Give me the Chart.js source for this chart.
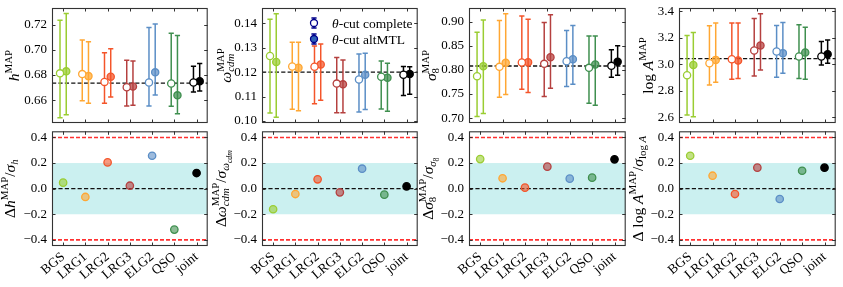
<!DOCTYPE html>
<html><head><meta charset="utf-8">
<script src="https://cdn.jsdelivr.net/npm/chart.js"></script>
<style>
html,body{margin:0;padding:0;background:#fff;}
#wrap{position:relative;width:843px;height:287px;overflow:hidden;background:#fff;}
canvas{position:absolute;}
</style></head><body><div id="wrap"></div>
<script>
// ---------------- DATA ----------------
const categories = ['BGS','LRG1','LRG2','LRG3','ELG2','QSO','joint'];
const tracerColors = ['#9acd32','#ffa733','#f4552a','#b5403f','#5b8ec6','#3f8f4f','#000000'];

// h
const h_complete    = [0.6813,0.6807,0.6745,0.6702,0.6740,0.6732,0.6740];
const h_complete_hi = [0.7235,0.7079,0.6977,0.6917,0.7178,0.7133,0.6869];
const h_complete_lo = [0.6460,0.6595,0.6576,0.6554,0.6554,0.6552,0.6665];
const h_alt         = [0.6829,0.6791,0.6786,0.6708,0.6821,0.6638,0.6751];
const h_alt_hi      = [0.7289,0.7065,0.7009,0.6912,0.7205,0.7114,0.6891];
const h_alt_lo      = [0.6484,0.6576,0.6624,0.6560,0.6640,0.6492,0.6673];
const h_fid = 0.6736;
const hTicks = [0.66,0.68,0.70,0.72];
const hTickLabels = ['0.66','0.68','0.70','0.72'];

// omega_cdm
const omega_complete    = [0.1266,0.1223,0.1222,0.1153,0.1170,0.1181,0.1189];
const omega_complete_hi = [0.1416,0.1322,0.1307,0.1260,0.1274,0.1245,0.1223];
const omega_complete_lo = [0.1033,0.1048,0.1071,0.1034,0.1037,0.1049,0.1104];
const omega_alt         = [0.1241,0.1218,0.1231,0.1150,0.1189,0.1177,0.1192];
const omega_alt_hi      = [0.1438,0.1322,0.1315,0.1249,0.1277,0.1236,0.1222];
const omega_alt_lo      = [0.1016,0.1042,0.1085,0.1034,0.1047,0.1040,0.1110];
const omega_fid = 0.1200;
const omegaTicks = [0.10,0.11,0.12,0.13,0.14];
const omegaTickLabels = ['0.10','0.11','0.12','0.13','0.14'];

// sigma8
const sigma8_complete    = [0.7869,0.8062,0.8152,0.8124,0.8179,0.8041,0.8083];
const sigma8_complete_hi = [0.8779,0.9021,0.9117,0.8979,0.8814,0.8703,0.8414];
const sigma8_complete_lo = [0.7034,0.7434,0.7600,0.7448,0.7655,0.7310,0.7848];
const sigma8_alt         = [0.8076,0.8145,0.8159,0.8262,0.8220,0.8110,0.8166];
const sigma8_alt_hi      = [0.9034,0.9159,0.9048,0.9138,0.8917,0.8703,0.8497];
const sigma8_alt_lo      = [0.7097,0.7490,0.7531,0.7621,0.7703,0.7268,0.7889];
const sigma8_fid = 0.808;
const sigma8Ticks = [0.70,0.75,0.80,0.85,0.90];
const sigma8TickLabels = ['0.70','0.75','0.80','0.85','0.90'];

// log A
const logA_complete    = [2.918,3.009,3.039,3.105,3.097,3.059,3.059];
const logA_complete_hi = [3.218,3.292,3.312,3.347,3.294,3.299,3.173];
const logA_complete_lo = [2.618,2.845,2.888,2.913,2.903,2.893,2.996];
const logA_alt         = [2.996,3.034,3.029,3.143,3.085,3.090,3.077];
const logA_alt_hi      = [3.241,3.312,3.312,3.382,3.317,3.281,3.185];
const logA_alt_lo      = [2.605,2.865,2.893,2.958,2.933,2.888,3.009];
const logA_fid = 3.044;
const logATicks = [2.6,2.8,3.0,3.2,3.4];
const logATickLabels = ['2.6','2.8','3.0','3.2','3.4'];

// normalized shifts (altMTL - complete)/sigma
const delta_h      = [0.047,-0.065,0.205,0.023,0.257,-0.320,0.122];
const delta_omega  = [-0.161,-0.042,0.073,-0.029,0.156,-0.047,0.018];
const delta_sigma8 = [0.231,0.081,0.008,0.172,0.078,0.086,0.229];
const delta_logA   = [0.257,0.101,-0.042,0.164,-0.081,0.140,0.164];
const deltaTicks = [-0.4,-0.2,0.0,0.2,0.4];
const deltaTickLabels = ['\u22120.4','\u22120.2','0.0','0.2','0.4'];
const deltaBand = [-0.2,0.2];
const deltaRedLines = [-0.4,0.4];

const legendLabels = ['complete','altMTL'];

// ---------------- STYLE / LAYOUT ----------------
const FONT = '"Liberation Serif","DejaVu Serif",serif';
const PAIR_OFF = 0.14;
const XMIN = -0.5, XMAX = 6.5;
const FRAME = '#333333';

function rgba(hex,a){const n=parseInt(hex.slice(1),16);return `rgba(${n>>16},${(n>>8)&255},${n&255},${a})`;}
const fillColors = tracerColors.map(c => c==='#000000' ? '#000000' : rgba(c,0.72));
const lightFill  = tracerColors.map(c => c==='#000000' ? '#000000' : rgba(c,0.6));

function drawMath(ctx, segs, x, cy, S){
  const items=[]; let pos=0, stackW=0;
  for(const s of segs){
    const size = (s.sup||s.sub) ? S*0.7 : (s.subsub ? S*0.5 : S);
    const font = (s.it?'italic ':'') + size + 'px ' + FONT;
    ctx.font = font;
    const w = ctx.measureText(s.t).width;
    const shift = s.sup ? S*0.42 : (s.sub ? -S*0.22 : (s.subsub ? -S*0.40 : 0));
    items.push({t:s.t, font, x:pos, shift});
    if(s.stack){ stackW = w; } else { pos += Math.max(w, stackW); stackW = 0; }
  }
  ctx.save();
  ctx.translate(x, cy);
  ctx.rotate(-Math.PI/2);
  ctx.fillStyle = '#000';
  ctx.textBaseline = 'alphabetic';
  ctx.textAlign = 'left';
  for(const it of items){ ctx.font = it.font; ctx.fillText(it.t, -pos/2 + it.x, -it.shift); }
  ctx.restore();
}

function drawErrorbar(ctx, x, y1, y2, color){
  ctx.strokeStyle = color; ctx.lineWidth = 1.5;
  ctx.beginPath();
  ctx.moveTo(x, y1); ctx.lineTo(x, y2);
  ctx.moveTo(x-2.6, y1); ctx.lineTo(x+2.6, y1);
  ctx.moveTo(x-2.6, y2); ctx.lineTo(x+2.6, y2);
  ctx.stroke();
}

function hline(ctx, area, y, color, lw, dash){
  ctx.save();
  ctx.strokeStyle = color; ctx.lineWidth = lw; ctx.setLineDash(dash);
  ctx.beginPath(); ctx.moveTo(area.left, y); ctx.lineTo(area.right, y); ctx.stroke();
  ctx.restore();
}

const wrap = document.getElementById('wrap');
const panelL = [52,262,469,679];
const panelR = [209,419,627,837];

function makeChart(opt){
  const cv = document.createElement('canvas');
  const cw = (opt.R - opt.L) + 56;
  cv.width = cw; cv.height = opt.ch;
  cv.style.left = (opt.L - 52) + 'px'; cv.style.top = opt.ctop + 'px';
  cv.style.width = cw + 'px'; cv.style.height = opt.ch + 'px';
  wrap.appendChild(cv);

  const plugin = {
    id: 'deco',
    beforeDatasetsDraw(chart){
      const ctx = chart.ctx, a = chart.chartArea, xs = chart.scales.x, ys = chart.scales.y;
      ctx.save();
      ctx.beginPath(); ctx.rect(a.left, a.top, a.right-a.left, a.bottom-a.top); ctx.clip();
      if(opt.band){
        const y1 = ys.getPixelForValue(opt.band[1]), y2 = ys.getPixelForValue(opt.band[0]);
        ctx.fillStyle = '#cbf0f0';
        ctx.fillRect(a.left, y1, a.right-a.left, y2-y1);
      }
      if(opt.redLines){ for(const v of opt.redLines) hline(ctx, a, ys.getPixelForValue(v), '#ff3030', 1.6, [4,2]); }
      if(opt.fid !== undefined) hline(ctx, a, ys.getPixelForValue(opt.fid), '#111', 1.3, [4.2,2.2]);
      if(opt.err){
        for(const e of opt.err){
          for(let i=0;i<categories.length;i++){
            const x = xs.getPixelForValue(i + e.off);
            drawErrorbar(ctx, x, ys.getPixelForValue(e.lo[i]), ys.getPixelForValue(e.hi[i]), tracerColors[i]);
          }
        }
      }
      ctx.restore();
    },
    afterDraw(chart){
      const ctx = chart.ctx, a = chart.chartArea, xs = chart.scales.x, ys = chart.scales.y;
      ctx.save();
      ctx.strokeStyle = FRAME; ctx.lineWidth = 1;
      ctx.beginPath();
      for(const t of xs.ticks){
        const x = Math.round(xs.getPixelForValue(t.value)) + 0.5;
        ctx.moveTo(x, a.top); ctx.lineTo(x, a.top + 3.5);
        ctx.moveTo(x, a.bottom); ctx.lineTo(x, a.bottom - 3.5);
      }
      for(const t of ys.ticks){
        const y = Math.round(ys.getPixelForValue(t.value)) + 0.5;
        ctx.moveTo(a.left, y); ctx.lineTo(a.left + 3.5, y);
        ctx.moveTo(a.right, y); ctx.lineTo(a.right - 3.5, y);
      }
      ctx.stroke();
      ctx.lineWidth = 1.1;
      ctx.strokeRect(a.left + 0.5, a.top + 0.5, a.right - a.left - 1, a.bottom - a.top - 1);
      drawMath(ctx, opt.label, a.left - opt.labOff, (a.top + a.bottom)/2, 15.5);
      if(opt.legend){
        const lx = a.left + 52, navy = '#00008b';
        const rows = [{y: a.top + 15, fill: '#ffffff'}, {y: a.top + 31, fill: '#2f62b8'}];
        rows.forEach((r, k) => {
          drawErrorbar(ctx, lx, r.y - 5, r.y + 5, navy);
          ctx.beginPath(); ctx.arc(lx, r.y, 3.5, 0, Math.PI*2);
          ctx.fillStyle = r.fill; ctx.fill(); ctx.lineWidth = 1.3; ctx.strokeStyle = navy; ctx.stroke();
          ctx.fillStyle = '#000'; ctx.textBaseline = 'middle'; ctx.textAlign = 'left';
          ctx.font = 'italic 13.5px ' + FONT;
          const tx = lx + 18;
          ctx.fillText('\u03b8', tx, r.y + 1);
          const w = ctx.measureText('\u03b8').width;
          ctx.font = '13.5px ' + FONT;
          ctx.fillText('-cut ' + legendLabels[k], tx + w, r.y + 1);
        });
      }
      ctx.restore();
    }
  };

  new Chart(cv, {
    type: 'scatter',
    data: { datasets: opt.datasets },
    options: {
      responsive: false, animation: false, devicePixelRatio: 1, events: [],
      layout: { padding: { top: opt.padTop, left: 0, right: 4, bottom: 0 } },
      plugins: { legend: { display: false }, tooltip: { enabled: false } },
      scales: {
        x: {
          type: 'linear', min: XMIN, max: XMAX,
          afterBuildTicks: s => { s.ticks = categories.map((c,i) => ({ value: i })); },
          grid: { display: false, drawTicks: false }, border: { display: false },
          ticks: { display: opt.showX, autoSkip: false, minRotation: 40, maxRotation: 40, padding: 3,
                   color: '#000', font: { family: FONT, size: 13.5 },
                   callback: (v, i) => categories[i] },
          afterFit: s => { s.height = opt.xH; s.paddingLeft = 0; s.paddingRight = 0; }
        },
        y: {
          type: 'linear', min: opt.ymin, max: opt.ymax,
          afterBuildTicks: s => { s.ticks = opt.yTicks.map(v => ({ value: v })); },
          grid: { display: false, drawTicks: false }, border: { display: false },
          ticks: { padding: 5, color: '#000', font: { family: FONT, size: 13 },
                   callback: (v, i) => opt.yTickLabels[i] },
          afterFit: s => { s.width = 52; s.paddingTop = 0; s.paddingBottom = 0; }
        }
      }
    },
    plugins: [plugin]
  });
}

function pairDatasets(comp, alt){
  return [
    { data: comp.map((v,i) => ({ x: i - PAIR_OFF, y: v })), showLine: false,
      pointRadius: 3.6, pointBorderWidth: 1.3, pointBackgroundColor: '#ffffff', pointBorderColor: tracerColors },
    { data: alt.map((v,i) => ({ x: i + PAIR_OFF, y: v })), showLine: false,
      pointRadius: 3.6, pointBorderWidth: 1.3, pointBackgroundColor: fillColors, pointBorderColor: tracerColors }
  ];
}
function deltaDataset(d){
  return [{ data: d.map((v,i) => ({ x: i, y: v })), showLine: false,
    pointRadius: 3.7, pointBorderWidth: 1.3, pointBackgroundColor: lightFill, pointBorderColor: tracerColors }];
}

const topSpecs = [
  { comp: h_complete, cLo: h_complete_lo, cHi: h_complete_hi, alt: h_alt, aLo: h_alt_lo, aHi: h_alt_hi,
    ymin: 0.6418, ymax: 0.7333, yTicks: hTicks, yTickLabels: hTickLabels, fid: h_fid,
    label: [{t:'h',it:1},{t:'MAP',sup:1}], labOff: 33 },
  { comp: omega_complete, cLo: omega_complete_lo, cHi: omega_complete_hi, alt: omega_alt, aLo: omega_alt_lo, aHi: omega_alt_hi,
    ymin: 0.0992, ymax: 0.1462, yTicks: omegaTicks, yTickLabels: omegaTickLabels, fid: omega_fid,
    label: [{t:'\u03c9',it:1},{t:'MAP',sup:1,stack:1},{t:'cdm',sub:1,it:1}], labOff: 31, legend: true },
  { comp: sigma8_complete, cLo: sigma8_complete_lo, cHi: sigma8_complete_hi, alt: sigma8_alt, aLo: sigma8_alt_lo, aHi: sigma8_alt_hi,
    ymin: 0.690, ymax: 0.928, yTicks: sigma8Ticks, yTickLabels: sigma8TickLabels, fid: sigma8_fid,
    label: [{t:'\u03c3',it:1},{t:'MAP',sup:1,stack:1},{t:'8',sub:1}], labOff: 33 },
  { comp: logA_complete, cLo: logA_complete_lo, cHi: logA_complete_hi, alt: logA_alt, aLo: logA_alt_lo, aHi: logA_alt_hi,
    ymin: 2.557, ymax: 3.426, yTicks: logATicks, yTickLabels: logATickLabels, fid: logA_fid,
    label: [{t:'log '},{t:'A',it:1},{t:'MAP',sup:1}], labOff: 26 }
];
topSpecs.forEach((s, k) => {
  makeChart({ L: panelL[k], R: panelR[k], ctop: 0, ch: 130, padTop: 8, xH: 7, showX: false,
    ymin: s.ymin, ymax: s.ymax, yTicks: s.yTicks, yTickLabels: s.yTickLabels, fid: s.fid,
    err: [{ off: -PAIR_OFF, lo: s.cLo, hi: s.cHi }, { off: PAIR_OFF, lo: s.aLo, hi: s.aHi }],
    datasets: pairDatasets(s.comp, s.alt), label: s.label, labOff: s.labOff, legend: !!s.legend });
});

const bottomSpecs = [
  { d: delta_h, label: [{t:'\u0394'},{t:'h',it:1},{t:'MAP',sup:1},{t:'/'},{t:'\u03c3',it:1},{t:'h',sub:1,it:1}], labOff: 37 },
  { d: delta_omega, label: [{t:'\u0394'},{t:'\u03c9',it:1},{t:'MAP',sup:1,stack:1},{t:'cdm',sub:1,it:1},{t:'/'},{t:'\u03c3',it:1},{t:'\u03c9',sub:1,it:1},{t:'cdm',subsub:1,it:1}], labOff: 36 },
  { d: delta_sigma8, label: [{t:'\u0394'},{t:'\u03c3',it:1},{t:'MAP',sup:1,stack:1},{t:'8',sub:1},{t:'/'},{t:'\u03c3',it:1},{t:'\u03c3',sub:1,it:1},{t:'8',subsub:1}], labOff: 36 },
  { d: delta_logA, label: [{t:'\u0394 log '},{t:'A',it:1},{t:'MAP',sup:1},{t:'/'},{t:'\u03c3',it:1},{t:'log ',sub:1},{t:'A',sub:1,it:1}], labOff: 36 }
];
bottomSpecs.forEach((s, k) => {
  makeChart({ L: panelL[k], R: panelR[k], ctop: 126, ch: 161, padTop: 5, xH: 41, showX: true,
    ymin: -0.448, ymax: 0.448, yTicks: deltaTicks, yTickLabels: deltaTickLabels,
    fid: 0, band: deltaBand, redLines: deltaRedLines,
    datasets: deltaDataset(s.d), label: s.label, labOff: s.labOff });
});
</script>
</body></html>
